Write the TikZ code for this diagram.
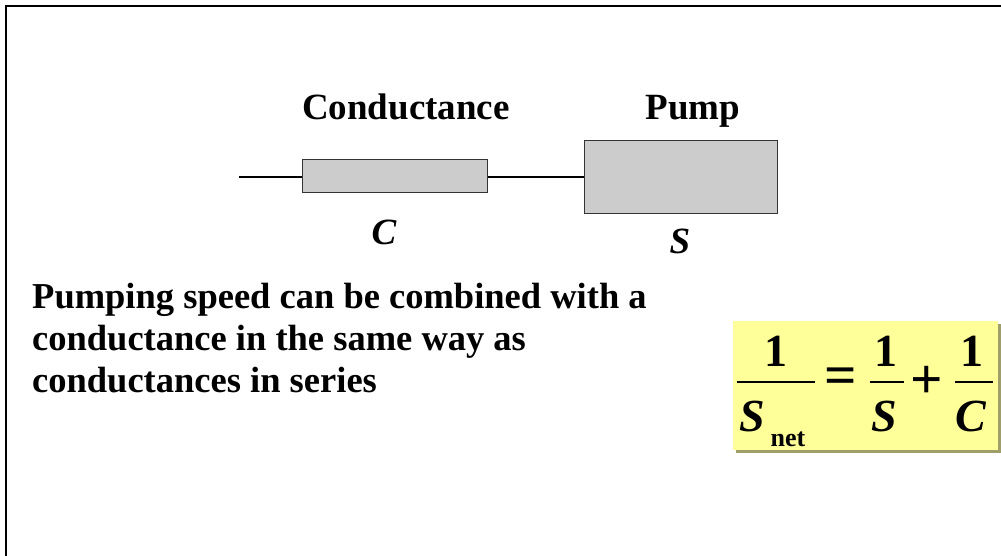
\documentclass[tikz,border=0pt]{standalone}
\usepackage{fontspec}
\setmainfont{Liberation Serif}

\definecolor{partgray}{HTML}{CCCCCC}
\definecolor{partedge}{HTML}{333333}
\definecolor{notepaper}{HTML}{FFFF99}
\definecolor{noteshadow}{HTML}{9E9E6A}

\begin{document}
\begin{tikzpicture}[x=1pt, y=-1pt]
\tikzstyle{part}=[rectangle, draw=partedge, fill=partgray, line width=1pt, inner sep=0pt]
\tikzstyle{pipe}=[black, line width=2pt]
\tikzstyle{heading}=[font=\fontsize{37}{40}\selectfont\bfseries, inner sep=0pt, anchor=base]
\tikzstyle{symbol}=[font=\fontsize{37}{40}\selectfont\bfseries\itshape, inner sep=0pt, anchor=base]
\tikzstyle{bodytext}=[font=\fontsize{36.5}{42}\selectfont\bfseries, inner sep=0pt, anchor=base west]
\tikzstyle{eqtext}=[font=\fontsize{46}{50}\selectfont\bfseries, inner sep=0pt, anchor=base]
\tikzstyle{eqsymbol}=[eqtext, font=\fontsize{46}{50}\selectfont\bfseries\itshape]
\tikzstyle{eqsign}=[font=\fontsize{57}{60}\selectfont\bfseries, inner sep=0pt, anchor=center]
\tikzstyle{eqsub}=[font=\fontsize{26}{30}\selectfont\bfseries, inner sep=0pt, anchor=base]
\tikzstyle{fracbar}=[black, line width=1.5pt]

\useasboundingbox (0,0) rectangle (1001,556);

% frame of the slide
\draw[line width=2.5pt] (6,556) -- (6,6) -- (1001,6);

% conductance in series with the pump
\node[part, minimum width=185pt, minimum height=33pt] (cond) at (394.5,176.5) {};
\node[part, minimum width=193pt, minimum height=73pt] (pump) at (681,177.5) {};
\coordinate (inlet) at (239,177.5);
\draw[pipe] (inlet) -- (inlet -| cond.west);
\draw[pipe] (inlet -| cond.east) -- (inlet -| pump.west);

\node[heading] (condname) at (406,120) {Conductance};
\node[heading] (pumpname) at (693,120) {Pump};
\node[symbol] (csym) at (384,244) {C};
\node[symbol] (ssym) at (680,253) {S};

% explanation
\node[bodytext] (line1) at (32,308) {Pumping speed can be combined with a};
\node[bodytext] (line2) at (32,350) {conductance in the same way as};
\node[bodytext] (line3) at (32,392) {conductances in series};

% net pumping speed formula
\fill[noteshadow] (736,324) rectangle (1000.5,452.5);
\fill[notepaper] (733,321) rectangle (998,450);

\node[eqtext] (num1) at (776,366) {1};
\node[eqsymbol] (den1) at (752,431) {S};
\node[eqsub] (den1sub) at (788,446) {net};
\draw[fracbar] (737,382) -- (815,382);

\node[eqsign] (equals) at (841,381) {=};

\node[eqtext] (num2) at (886,366) {1};
\node[eqsymbol] (den2) at (884,431) {S};
\draw[fracbar] (870,382) -- (904,382);

\node[eqsign] (plus) at (927,382.5) {+};

\node[eqtext] (num3) at (972,366) {1};
\node[eqsymbol] (den3) at (971,431) {C};
\draw[fracbar] (955,382) -- (993,382);
\end{tikzpicture}
\end{document}
